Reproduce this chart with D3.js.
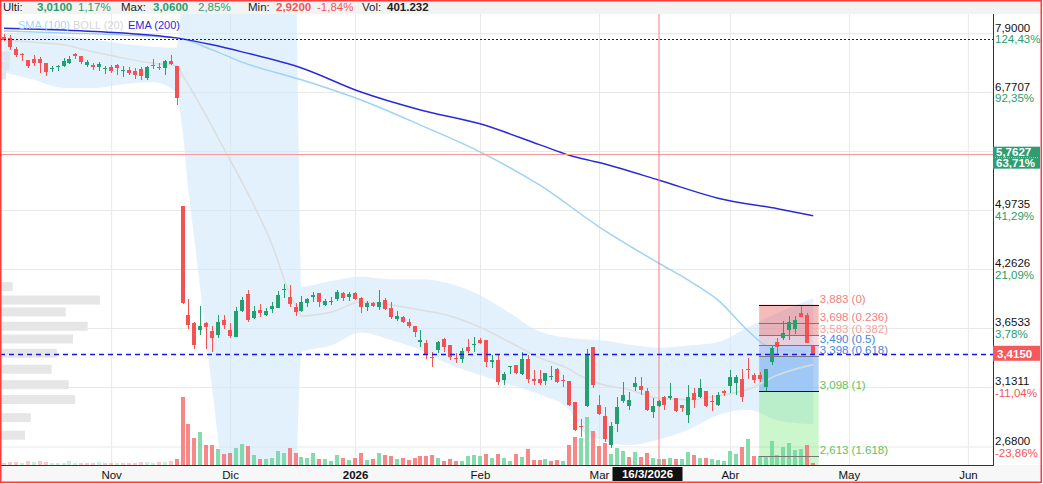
<!DOCTYPE html>
<html>
<head>
<meta charset="utf-8">
<script src="https://cdn.jsdelivr.net/npm/d3@7"></script>
<style>
  body { margin: 0; background: #fff; }
  svg { display: block; font-family: "Liberation Sans", Arial, sans-serif; }
</style>
</head>
<body>
<svg id="chart" width="1043" height="484"></svg>
<script>
// daily bars, one per trading day (index 0 = early Oct 2025)
const opens = [7.82,7.79,7.57,7.48,7.36,7.39,7.39,7.30,7.19,7.22,7.25,7.31,7.47,7.44,7.27,7.27,7.23,7.19,7.23,7.26,
  7.16,7.18,7.16,7.19,7.02,7.27,7.23,7.20,7.34,7.24,5.03,3.78,3.70,3.63,3.70,3.625,3.59,3.73,3.63,3.57,
  3.82,3.99,3.75,3.83,3.78,3.84,3.85,4.04,3.96,3.86,3.82,3.90,3.96,4.00,3.88,3.91,3.94,4.00,3.96,4.00,
  3.95,3.86,3.90,3.86,3.93,3.85,3.745,3.76,3.71,3.675,3.523,3.51,3.39,3.45,3.55,3.49,3.38,3.37,3.48,3.49,
  3.54,3.54,3.34,3.36,3.19,3.30,3.32,3.24,3.365,3.195,3.20,3.18,3.21,3.28,3.19,3.18,3.01,2.83,2.98,3.48,
  2.99,2.90,2.69,2.84,3.02,2.98,3.135,3.14,3.10,2.93,2.98,3.05,3.04,3.04,2.99,2.91,3.08,3.05,3.10,3.02,
  2.99,3.10,3.14,3.16,3.20,3.28,3.23,3.23,3.13,3.34,3.52,3.56,3.63,3.64,3.80,3.78,3.49];
const highs = [7.88,7.86,7.62,7.49,7.37,7.45,7.42,7.31,7.24,7.27,7.40,7.44,7.50,7.44,7.37,7.31,7.32,7.24,7.27,7.28,
  7.25,7.23,7.20,7.23,7.25,7.38,7.30,7.36,7.45,7.25,5.03,3.94,3.71,3.87,3.71,3.67,3.78,3.78,3.70,3.86,
  3.96,4.04,3.87,3.89,3.85,3.91,4.02,4.10,4.09,3.90,3.97,3.95,4.01,4.00,3.94,3.96,4.04,4.01,4.01,4.01,
  3.96,3.92,3.91,4.04,3.95,3.91,3.82,3.77,3.74,3.675,3.63,3.54,3.43,3.53,3.56,3.49,3.42,3.47,3.55,3.57,
  3.56,3.54,3.40,3.40,3.26,3.31,3.32,3.43,3.40,3.27,3.27,3.25,3.31,3.29,3.23,3.18,3.01,2.88,3.46,3.48,
  3.07,2.97,2.86,3.05,3.17,3.09,3.21,3.21,3.12,3.04,3.03,3.06,3.16,3.04,2.99,3.15,3.12,3.20,3.10,3.07,
  3.09,3.11,3.27,3.23,3.28,3.38,3.25,3.26,3.28,3.49,3.555,3.72,3.77,3.77,3.883,3.80,3.49];
const lows = [7.74,7.55,7.41,7.35,7.20,7.24,7.12,7.06,7.13,7.15,7.23,7.29,7.38,7.29,7.23,7.17,7.15,7.10,7.11,7.08,
  7.05,7.08,7.01,6.98,6.98,7.19,7.17,7.07,7.26,6.54,3.89,3.64,3.46,3.59,3.46,3.43,3.56,3.64,3.56,3.57,
  3.81,3.71,3.74,3.76,3.77,3.80,3.85,3.95,3.86,3.77,3.81,3.86,3.91,3.86,3.87,3.88,3.92,3.92,3.92,3.93,
  3.80,3.82,3.86,3.83,3.83,3.74,3.72,3.70,3.65,3.57,3.48,3.37,3.30,3.42,3.43,3.36,3.33,3.33,3.42,3.43,
  3.50,3.30,3.29,3.15,3.15,3.24,3.24,3.23,3.16,3.15,3.15,3.15,3.19,3.16,3.13,2.98,2.79,2.75,2.97,3.12,
  2.91,2.71,2.67,2.78,3.00,2.95,3.10,3.07,2.94,2.89,2.97,2.95,3.03,2.93,2.93,2.85,2.96,3.04,2.97,2.94,
  2.98,3.06,3.08,3.07,3.01,3.20,3.16,3.17,3.098,3.32,3.41,3.54,3.54,3.60,3.76,3.51,3.41];
const closes = [7.76,7.62,7.45,7.46,7.25,7.31,7.30,7.13,7.21,7.24,7.35,7.38,7.43,7.33,7.32,7.23,7.29,7.21,7.15,7.20,
  7.18,7.11,7.08,7.06,7.22,7.25,7.20,7.34,7.28,6.66,3.90,3.68,3.49,3.67,3.66,3.56,3.71,3.68,3.58,3.82,
  3.93,3.73,3.82,3.80,3.82,3.87,3.98,4.05,3.89,3.81,3.91,3.94,3.98,3.91,3.92,3.92,4.01,3.95,3.99,3.94,
  3.86,3.90,3.87,3.91,3.84,3.76,3.77,3.71,3.67,3.615,3.54,3.41,3.38,3.52,3.48,3.39,3.37,3.44,3.44,3.50,
  3.51,3.34,3.36,3.17,3.24,3.31,3.25,3.365,3.195,3.18,3.16,3.25,3.22,3.17,3.18,2.99,2.80,2.82,3.41,3.15,
  2.92,2.73,2.83,2.97,3.07,3.03,3.167,3.11,2.95,2.98,3.02,2.99,3.06,2.94,2.96,3.05,3.03,3.12,2.98,3.01,
  3.07,3.08,3.21,3.21,3.05,3.27,3.19,3.20,3.28,3.47,3.48,3.61,3.71,3.73,3.76,3.51,3.415];
const volumes = [400,540,540,400,800,540,800,540,400,400,400,800,400,400,400,400,600,400,400,400,
  400,400,400,600,600,400,600,600,800,1140,13540,8200,5340,6540,4000,3940,3140,2200,2340,3340,
  4200,3800,1940,1140,1140,1340,2800,2400,3340,2340,1540,1340,2340,1140,1140,800,1940,1340,940,1340,
  2340,940,1140,2340,1940,1740,1140,1340,940,1340,1740,1800,2000,1400,800,1200,800,800,1800,1940,
  1800,2140,1400,2140,1400,800,2140,1540,3140,1000,1000,1200,800,1000,800,4000,5540,5340,9540,6800,
  3800,4400,2200,3340,2860,1660,2660,1540,2460,1340,1140,1140,1340,1140,1140,2540,1940,1460,1460,1140,
  1000,860,2800,2140,3600,5140,1800,1800,1800,4800,2000,3660,4340,3000,3260,4000,401];

// indicators at sample bars
const smaIdx = [0,10,20,29,35,40,50,60,70,80,90,100,110,115,120,125,128,131,136];
const smaVal = [7.94,7.90,7.86,7.80,7.56,7.32,6.99,6.63,6.21,5.79,5.31,4.76,4.33,4.14,3.93,3.63,3.49,3.45,3.44];
const emaIdx = [0,10,20,29,35,40,50,60,70,80,90,95,100,110,120,130,136];
const emaVal = [8.00,7.96,7.90,7.80,7.66,7.52,7.21,6.77,6.46,6.23,5.90,5.74,5.63,5.38,5.13,4.99,4.90];
const bollIdx = [0,5,10,15,20,25,29,30,31,32,33,34,35,36,37,40,45,48,49,50,55,60,65,70,75,80,85,90,95,97,100,105,110,115,120,125,130,136];
const bollUp = [7.90,7.88,7.84,7.76,7.68,7.62,7.60,8.6,9.0,9.2,9.4,9.5,9.5,9.5,9.5,9.5,9.5,9.3,9.0,4.07,4.13,4.18,4.15,4.15,4.10,3.98,3.80,3.62,3.56,3.55,3.54,3.50,3.47,3.49,3.52,3.66,3.80,3.95];
const bollMid = [7.76,7.71,7.66,7.52,7.40,7.30,7.25,7.08,6.90,6.72,6.54,6.36,6.18,6.00,5.83,5.35,4.55,4.0,3.88,3.77,3.81,3.91,3.88,3.83,3.77,3.66,3.52,3.38,3.28,3.22,3.16,3.11,3.04,3.03,3.06,3.11,3.23,3.32];
const bollLow = [7.13,6.99,6.84,6.84,6.91,6.95,6.76,6.13,5.24,4.60,4.04,3.54,3.11,2.73,2.39,2.0,2.0,2.2,2.4,3.43,3.49,3.61,3.54,3.45,3.32,3.23,3.15,3.07,2.95,2.80,2.73,2.69,2.73,2.80,2.91,2.95,2.87,2.84];

// volume profile on the left
const profPrice = [7.44,7.25,7.08,4.07,3.93,3.81,3.67,3.55,3.42,3.28,3.15,3.03,2.89,2.76];
const profVol = [1000,900,600,1270,10000,6570,8770,7300,5670,5170,6870,7500,3070,2500];

// fibonacci retracement
const fibVal = [3.883,3.698,3.583,3.490,3.398,3.098,2.613];
const fibRatio = ["0","0.236","0.382","0.5","0.618","1","1.618"];
const fibFrom = 127, fibTo = 137;

// axes
const priceTicks = [2.68,3.1311,3.6533,4.2626,4.9735,5.8030,6.7707,7.9];
const priceLabels = ["2,6800","3,1311","3,6533","4,2626","4,9735","5,8030","6,7707","7,9000"];
const pctLabels = ["-23,86%","-11,04%","3,78%","21,09%","41,29%","64,86%","92,35%","124,43%"];
const monthIdx = [18,38,59,80,100,122,142,162];
const monthLabels = ["Nov","Dic","2026","Feb","Mar","Abr","May","Jun"];

const lastPrice = 3.415, refLevel = 7.78;
const hoverIdx = 110, hoverPrice = 5.7627, hoverPct = "63,71%", hoverDate = "16/3/2026";

const width = 1043, height = 484;
const plot = { left: 0, right: 993, top: 14, bottom: 465 };
const green = "#22a06f", red = "#f45252";

const svg = d3.select("#chart");
svg.append("rect").attr("width", width).attr("height", height).attr("fill", "#fff");

const x = d3.scaleLinear().domain([0, 162]).range([4, 4 + 5.95 * 162]);
const y = d3.scaleLog().domain([2.68, 7.9]).range([446.5, 33]);
const yVol = d3.scaleLinear().domain([0, 14000]).range([plot.bottom, plot.bottom - 70]);
const xProf = d3.scaleLinear().domain([0, 10000]).range([0, 100]);

const bars = closes.map((c, i) => ({ i, o: opens[i], h: highs[i], l: lows[i], c, v: volumes[i],
  up: c >= opens[i], volUp: c >= (i ? closes[i - 1] : opens[i]) }));

svg.append("clipPath").attr("id", "clip").append("rect")
  .attr("x", plot.left).attr("y", plot.top)
  .attr("width", plot.right - plot.left).attr("height", plot.bottom - plot.top);
const g = svg.append("g").attr("clip-path", "url(#clip)");

// grid
g.append("g").attr("transform", `translate(${plot.right},0)`)
  .call(d3.axisLeft(y).tickValues(priceTicks).tickSize(plot.right).tickFormat(""))
  .call(a => { a.select(".domain").remove(); a.selectAll("line").attr("stroke", "#e9e9e9"); });
g.append("g").attr("transform", `translate(0,${plot.top})`)
  .call(d3.axisBottom(x).tickValues(monthIdx).tickSize(plot.bottom - plot.top).tickFormat(""))
  .call(a => { a.select(".domain").remove(); a.selectAll("line").attr("stroke", "#e9e9e9"); });

// volume profile
g.append("g").selectAll("rect").data(profPrice).join("rect")
  .attr("x", 0).attr("y", d => y(d) - 4.5)
  .attr("width", (d, i) => xProf(profVol[i])).attr("height", 9)
  .attr("fill", "#e6e6e6");

// bollinger band
const boll = bollIdx.map((d, k) => ({ i: d, u: bollUp[k], m: bollMid[k], l: bollLow[k] }));
g.append("path").datum(boll)
  .attr("d", d3.area().curve(d3.curveMonotoneX).x(d => x(d.i)).y0(d => y(d.l)).y1(d => y(d.u)))
  .attr("fill", "#cfe8fa").attr("fill-opacity", 0.6);

// fib zones
const fx0 = x(fibFrom) - 0.5, fx1 = x(fibTo) - 0.5;
const fibZones = [
  [fibVal[0], fibVal[2], "rgba(232,90,90,0.42)"],
  [fibVal[2], fibVal[3], "rgba(232,120,140,0.28)"],
  [fibVal[3], fibVal[4], "rgba(110,120,235,0.30)"],
  [fibVal[4], fibVal[5], "rgba(80,150,240,0.45)"],
  [fibVal[5], 2.3, "rgba(120,232,120,0.38)"]
];
g.append("g").selectAll("rect").data(fibZones).join("rect")
  .attr("x", fx0).attr("width", fx1 - fx0)
  .attr("y", d => y(d[0])).attr("height", d => y(d[1]) - y(d[0]))
  .attr("fill", d => d[2]);

// volume bars
g.append("g").attr("shape-rendering", "crispEdges").selectAll("rect").data(bars).join("rect")
  .attr("x", d => Math.round(x(d.i)) - 2).attr("width", 4)
  .attr("y", d => yVol(d.v)).attr("height", d => plot.bottom - yVol(d.v))
  .attr("fill", d => d.volUp ? "#6fd69f" : "#f77272")
  .attr("opacity", d => d.i < 29 ? 0.4 : 0.85);

// indicator lines
const line = d3.line().curve(d3.curveMonotoneX);
g.append("path").datum(boll).attr("d", line.x(d => x(d.i)).y(d => y(d.m)))
  .attr("fill", "none").attr("stroke", "#dddddd").attr("stroke-width", 1.5);
g.append("path").datum(smaIdx.map((d, k) => [x(d), y(smaVal[k])]))
  .attr("d", d3.line().curve(d3.curveMonotoneX))
  .attr("fill", "none").attr("stroke", "#9fd2f5").attr("stroke-width", 1.5);
g.append("path").datum(emaIdx.map((d, k) => [x(d), y(emaVal[k])]))
  .attr("d", d3.line().curve(d3.curveMonotoneX))
  .attr("fill", "none").attr("stroke", "#2a2ad8").attr("stroke-width", 1.5);

// crosshair (behind candles)
g.append("line").attr("x1", 0).attr("x2", plot.right)
  .attr("y1", Math.round(y(hoverPrice)) + 0.5).attr("y2", Math.round(y(hoverPrice)) + 0.5)
  .attr("stroke", "#f59a9a");
g.append("rect").attr("x", Math.round(x(hoverIdx)) - 0.5).attr("y", plot.top)
  .attr("width", 1).attr("height", plot.bottom - plot.top)
  .attr("fill", "#f47f7f");

// candles
const cg = g.append("g").attr("shape-rendering", "crispEdges");
const candle = cg.selectAll("g").data(bars).join("g");
candle.append("line")
  .attr("x1", d => Math.round(x(d.i))).attr("x2", d => Math.round(x(d.i)))
  .attr("y1", d => y(d.h)).attr("y2", d => y(d.l))
  .attr("stroke", d => d.up ? green : red);
candle.append("rect")
  .attr("x", d => Math.round(x(d.i)) - 2).attr("width", 4)
  .attr("y", d => y(Math.max(d.o, d.c)))
  .attr("height", d => Math.max(1, Math.abs(y(d.o) - y(d.c))))
  .attr("fill", d => d.up ? green : red);

// fib lines + labels
g.append("g").attr("shape-rendering", "crispEdges").selectAll("line").data(fibVal).join("line")
  .attr("x1", fx0).attr("x2", fx1)
  .attr("y1", d => Math.round(y(d)) + 0.5).attr("y2", d => Math.round(y(d)) + 0.5)
  .attr("stroke", (d, i) => (i === 0 || i === 5) ? "#111" : "#777");
const fibColor = ["#f08080","#f08080","#f4a3a3","#3d86dd","#3d86dd","#5cc65c","#5cc65c"];
g.append("g").selectAll("text").data(fibVal).join("text")
  .attr("x", fx1 + 1).attr("y", d => y(d) - 2)
  .attr("font-size", 11.5).attr("fill", (d, i) => fibColor[i])
  .text((d, i) => `${d.toFixed(3).replace(".", ",")} (${fibRatio[i]})`);

// reference lines
g.append("line").attr("x1", 0).attr("x2", plot.right)
  .attr("y1", Math.round(y(refLevel)) + 0.5).attr("y2", Math.round(y(refLevel)) + 0.5)
  .attr("stroke", "#222").attr("stroke-dasharray", "2,2");
g.append("line").attr("x1", 0).attr("x2", plot.right)
  .attr("y1", Math.round(y(lastPrice)) + 0.5).attr("y2", Math.round(y(lastPrice)) + 0.5)
  .attr("stroke", "#1515f0").attr("stroke-width", 1.3).attr("stroke-dasharray", "5,4");

// header bar
svg.append("rect").attr("width", width).attr("height", plot.top).attr("fill", "#f3f3f3");
const head = [
  ["Ulti:", 3, "#222", 400], ["3,0100", 37, "#2a9d6b", 700], ["1,17%", 78, "#2a9d6b", 400],
  ["Max:", 121, "#222", 400], ["3,0600", 153, "#2a9d6b", 700], ["2,85%", 198, "#2a9d6b", 400],
  ["Min:", 248, "#222", 400], ["2,9200", 276, "#f25555", 700], ["-1,84%", 317, "#f25555", 400],
  ["Vol:", 362, "#222", 400], ["401.232", 387, "#222", 700]
];
svg.append("g").selectAll("text").data(head).join("text")
  .attr("x", d => d[1]).attr("y", 11).attr("font-size", 11.5)
  .attr("fill", d => d[2]).attr("font-weight", d => d[3]).text(d => d[0]);

// legend
const legend = [["SMA (100)", 18, "#a6d5f6"], ["BOLL (20)", 73, "#d6d6d6"], ["EMA (200)", 128, "#2a2ad8"]];
svg.append("g").selectAll("text").data(legend).join("text")
  .attr("x", d => d[1]).attr("y", 29).attr("font-size", 11)
  .attr("fill", d => d[2]).text(d => d[0]);

// right axis
const ra = svg.append("g").attr("transform", `translate(${plot.right},0)`)
  .call(d3.axisRight(y).tickValues(priceTicks).tickSize(0).tickPadding(2)
    .tickFormat((d, i) => priceLabels[i]));
ra.select(".domain").remove();
ra.selectAll(".tick")
  .attr("opacity", d => Math.abs(y(d) - y(hoverPrice)) < 22 ? 0 : 1);
ra.selectAll(".tick text").attr("dy", null).attr("y", -2)
  .attr("font-size", 11.5).attr("fill", "#111").attr("font-family", null);
ra.selectAll(".tick").append("text")
  .attr("x", 2).attr("y", 9.5).attr("font-size", 11.5)
  .attr("fill", d => d >= 3.52 ? "#2a9d6b" : "#f25555")
  .text(d => pctLabels[priceTicks.indexOf(d)]);
svg.append("line").attr("x1", plot.right + 0.5).attr("x2", plot.right + 0.5)
  .attr("y1", plot.top).attr("y2", plot.bottom).attr("stroke", "#333");

// bottom axis
svg.append("rect").attr("x", 0).attr("y", plot.bottom).attr("width", width).attr("height", height - plot.bottom)
  .attr("fill", "#f7f7f7");
const ba = svg.append("g").attr("transform", `translate(0,${plot.bottom})`)
  .call(d3.axisBottom(x).tickValues(monthIdx).tickSize(0).tickPadding(6)
    .tickFormat((d, i) => monthLabels[i]));
ba.select(".domain").attr("d", `M0,0.5H${plot.right + 1}`).attr("stroke", "#333");
ba.selectAll(".tick text").attr("font-size", 11.5).attr("fill", "#111").attr("font-family", null)
  .attr("font-weight", (d, i) => monthLabels[i] === "2026" ? 700 : 400);

// current price tag
const yl = y(lastPrice);
svg.append("rect").attr("x", plot.right).attr("y", yl - 8).attr("width", 47).attr("height", 15).attr("fill", "#f45a5a");
svg.append("text").attr("x", plot.right + 4).attr("y", yl + 4).attr("font-size", 11.5)
  .attr("font-weight", 700).attr("fill", "#fff").text(lastPrice.toFixed(4).replace(".", ","));

// crosshair tags
const yh = y(hoverPrice);
svg.append("rect").attr("x", plot.right).attr("y", yh - 7).attr("width", 47).attr("height", 22).attr("fill", "#2e9e72");
svg.append("line").attr("x1", plot.right + 2).attr("x2", plot.right + 45).attr("y1", yh + 4).attr("y2", yh + 4)
  .attr("stroke", "#9fd9bf").attr("stroke-dasharray", "1,1");
svg.append("text").attr("x", plot.right + 3).attr("y", yh + 2.5).attr("font-size", 11.5)
  .attr("font-weight", 700).attr("fill", "#fff").text(hoverPrice.toFixed(4).replace(".", ","));
svg.append("text").attr("x", plot.right + 3).attr("y", yh + 13.5).attr("font-size", 11.5)
  .attr("font-weight", 700).attr("fill", "#fff").text(hoverPct);
const xh = x(hoverIdx);
svg.append("rect").attr("x", xh - 46).attr("y", plot.bottom + 2).attr("width", 70).attr("height", 14).attr("fill", "#111");
svg.append("text").attr("x", xh - 11).attr("y", plot.bottom + 13).attr("text-anchor", "middle")
  .attr("font-size", 11.5).attr("font-weight", 700).attr("fill", "#fff").text(hoverDate);

// frame
svg.append("rect").attr("x", 0.75).attr("y", 0.75).attr("width", 1040.5).attr("height", 481.5)
  .attr("fill", "none").attr("stroke", "#ff3b3b").attr("stroke-width", 1.5);
</script>
</body>
</html>
